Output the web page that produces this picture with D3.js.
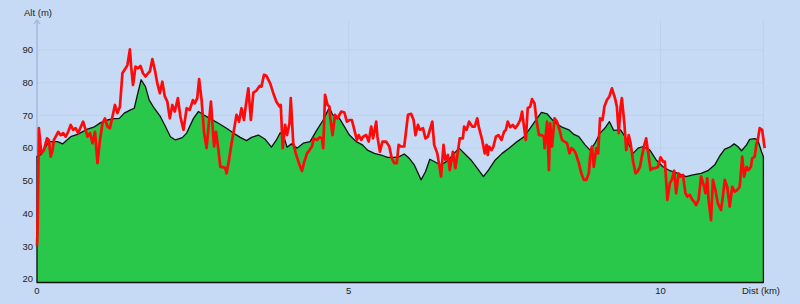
<!DOCTYPE html>
<html>
<head>
<meta charset="utf-8">
<script src="https://cdn.jsdelivr.net/npm/d3@7"></script>
<style>
  html, body { margin: 0; padding: 0; background: #c6daf5; }
  svg { display: block; }
  text { font-family: "Liberation Sans", Arial, sans-serif; font-size: 9.5px; fill: #222; }
</style>
</head>
<body>
<div id="profile"></div>
<script>
// terrain profile (km, m)
var terrainDist = [0.00,0.06,0.19,0.33,0.41,0.54,0.65,0.81,0.91,1.02,1.13,1.23,1.32,1.40,1.50,1.56,1.61,1.67,1.74,1.80,1.88,1.98,2.06,2.14,2.22,2.33,2.40,2.51,2.59,2.67,2.77,2.91,3.04,3.15,3.26,3.36,3.44,3.55,3.66,3.76,3.84,3.90,3.96,4.01,4.08,4.17,4.27,4.38,4.49,4.59,4.67,4.69,4.74,4.85,4.93,5.01,5.12,5.22,5.30,5.41,5.52,5.62,5.73,5.81,5.89,5.97,6.05,6.16,6.23,6.30,6.40,6.48,6.59,6.69,6.77,6.88,6.96,7.06,7.16,7.24,7.35,7.46,7.57,7.70,7.81,7.91,8.02,8.09,8.18,8.29,8.42,8.53,8.61,8.69,8.79,8.87,8.95,9.03,9.12,9.18,9.25,9.36,9.43,9.51,9.56,9.64,9.72,9.83,9.93,10.04,10.15,10.28,10.41,10.52,10.65,10.76,10.87,10.95,11.03,11.11,11.18,11.24,11.30,11.38,11.43,11.51,11.56,11.62,11.65]
var terrainAlt = [57.5,58,62,62,61.3,63.5,64.2,65.8,66.4,67.8,68.6,69,69.1,70.7,71.7,72.2,76.3,80.9,78.8,74.7,72.2,69.6,66.6,63.5,62.5,63.2,64.6,69.1,71.2,70.2,69.1,67.6,66.1,64.6,63.3,62.3,63.3,64,62.7,60.3,62.5,64.7,63.5,60.3,61.3,60,61.5,62,65.6,68.6,71.7,72.5,70.2,69.1,66.6,64,62,61,59.4,58.4,57.9,57.2,57.2,57.4,58.2,56.9,54.9,50.3,52.8,56.6,55.6,54.9,56.2,58.4,60,57.9,56.4,53.9,51.3,53.3,56.4,58.4,60,62,63.5,66.1,69.1,70.9,70.5,68.1,66.4,65.6,64.2,63.5,61,59.4,61.5,64.6,66.4,68.1,65.4,65.6,63.5,60.5,58.4,60,60.5,59.4,56.4,54.3,53.1,52.3,51.3,51.8,52.3,53.1,54.9,57.6,59.7,60.3,61.3,60.5,59.2,61,62.7,62.9,62.5,58.9,57.4]

// recorded track (km, m)
var trackDist = [0.00,0.01,0.03,0.07,0.11,0.16,0.19,0.22,0.25,0.27,0.30,0.34,0.38,0.42,0.46,0.50,0.54,0.58,0.62,0.66,0.70,0.74,0.78,0.81,0.85,0.89,0.93,0.97,1.01,1.05,1.09,1.13,1.17,1.21,1.25,1.29,1.33,1.37,1.42,1.45,1.49,1.51,1.54,1.58,1.62,1.66,1.70,1.74,1.78,1.81,1.85,1.89,1.93,1.97,2.01,2.05,2.09,2.13,2.17,2.21,2.26,2.30,2.35,2.40,2.45,2.50,2.53,2.57,2.60,2.64,2.68,2.72,2.76,2.79,2.82,2.84,2.87,2.91,2.94,2.98,3.02,3.04,3.08,3.12,3.16,3.20,3.24,3.28,3.32,3.35,3.39,3.43,3.47,3.52,3.57,3.60,3.64,3.68,3.74,3.79,3.84,3.89,3.91,3.94,3.98,4.01,4.05,4.07,4.11,4.15,4.21,4.25,4.28,4.33,4.37,4.41,4.44,4.49,4.53,4.57,4.59,4.62,4.66,4.69,4.70,4.74,4.78,4.82,4.88,4.93,4.97,5.01,5.05,5.09,5.13,5.16,5.20,5.23,5.28,5.32,5.36,5.39,5.44,5.46,5.50,5.54,5.60,5.65,5.69,5.73,5.77,5.80,5.84,5.89,5.95,6.00,6.04,6.07,6.11,6.14,6.19,6.23,6.27,6.30,6.34,6.37,6.42,6.45,6.48,6.52,6.55,6.59,6.62,6.67,6.71,6.75,6.78,6.83,6.85,6.89,6.93,6.98,7.02,7.06,7.09,7.14,7.18,7.21,7.23,7.25,7.29,7.32,7.36,7.40,7.45,7.49,7.52,7.55,7.59,7.63,7.67,7.71,7.75,7.78,7.81,7.84,7.87,7.91,7.94,7.98,8.01,8.05,8.09,8.13,8.14,8.18,8.21,8.23,8.26,8.30,8.34,8.38,8.42,8.46,8.50,8.54,8.57,8.61,8.64,8.69,8.73,8.77,8.81,8.85,8.87,8.90,8.93,8.97,9.00,9.03,9.07,9.10,9.14,9.18,9.22,9.27,9.30,9.33,9.36,9.38,9.42,9.45,9.49,9.52,9.56,9.60,9.63,9.67,9.70,9.74,9.77,9.80,9.84,9.88,9.92,9.96,10.00,10.04,10.07,10.11,10.15,10.18,10.22,10.25,10.29,10.32,10.36,10.40,10.43,10.47,10.51,10.54,10.57,10.61,10.65,10.70,10.72,10.75,10.77,10.81,10.84,10.88,10.92,10.97,11.00,11.03,11.07,11.11,11.15,11.19,11.23,11.27,11.31,11.34,11.38,11.41,11.45,11.47,11.51,11.54,11.56,11.59,11.63,11.67]
var trackAlt = [30,36,66.1,58.4,59.4,63,62.5,57.4,59.4,62.5,63.5,65,64,64.6,63.5,65,67.1,65.6,66.1,64.6,66.4,68.1,65.6,63.5,64.6,61.5,65,55.4,62.5,67.6,69.1,66.6,66.1,69.6,73.2,70.7,72.7,82.9,84.4,85.4,90.2,84.9,79.3,84.9,84.4,85.1,82.9,81.9,82.9,83.4,87.2,83.9,79.8,76.8,80.3,75.8,74.2,69.1,73.2,71.2,75.3,69.6,65.6,72.2,71.7,74.7,73.7,75.3,81.1,74.7,64.6,60,68.6,74.2,65.6,60.5,65,59.4,54.3,54.2,53.9,52.3,56.4,61.5,65.6,70.2,68.1,72.2,68.6,73.2,78.3,68.6,77,77.6,79,78.8,82.4,82.1,79.8,76.8,74.2,72.7,73.2,60,67.1,64,67.6,75.3,61.5,58.4,54.9,53,55.4,58.4,59.4,60.5,63,62.5,63.3,63,60,76.3,73.2,72.7,69.6,64,70.2,69.1,71.2,70.9,68.1,68.6,68.6,65.6,62.5,64,62.5,63.5,64,62,66.6,63,68.1,63.5,58.9,62,62,60.5,56.9,55.4,55.4,61,60.5,60.5,70.2,70.5,68.6,64,67.1,65.6,66.1,63,63.5,65.6,68.1,61,58.4,54.9,51.3,61,56.4,57.9,53.3,58.9,53.9,58.9,63,63,66.6,65.6,68.1,66.6,66.6,69.1,66.1,62.5,58.4,61,57.9,60.5,59.4,60.5,63.5,64,62.5,65,65.6,68.1,66.4,67.1,66.1,67.1,68.6,71.2,66.6,62.5,72.2,72.7,75,73.7,68.6,64,64,63.5,60,68.1,53.3,67.6,60.5,69.1,68.1,65.6,62.5,62,61.5,58.4,60,59.4,58.4,55.4,52.3,50.3,50.3,52.3,57.4,60.5,54.3,60,58.4,69.1,68.6,72.7,74.7,75.8,78.3,75.3,72.7,64.6,72.7,75.3,67.6,59.4,64,61.5,55.9,52.3,52.8,54.3,57.4,61,63,58.9,53.3,53.9,53.9,54.3,57.2,55.9,55.9,44.2,49.3,50.3,53.1,46.2,52.3,51.3,51.8,46.2,45.2,45.7,44.2,43.6,42.6,44.2,51.3,48.2,46.2,50.8,44.2,38,50.3,47.2,43.1,41.1,45.2,50.3,48.2,42.1,48.2,46.7,47.2,48.2,57.4,51.3,54.3,53.3,54.3,56.9,57.4,61.5,62.5,66.1,65.6,60]

var xTicks = [0, 5, 10]
var yTicks = [20, 30, 40, 50, 60, 70, 80, 90]

var WIDTH = 800, HEIGHT = 304
var LEFT = 37, RIGHT = 763.4, TOP = 20, BOTTOM = 282.5

const svg = d3.select('#profile').append("svg").attr("width", WIDTH).attr("height", HEIGHT)
svg.append("rect").attr("width", WIDTH).attr("height", HEIGHT).attr("fill", "#c6daf5")

const x = d3.scaleLinear().domain([0, 11.65]).range([LEFT, RIGHT])
const y = d3.scaleLinear().domain([20, 90]).range([279, 50])

// grid
svg.append("g").selectAll("line").data(yTicks.slice(1)).enter().append("line")
    .attr("x1", LEFT).attr("x2", RIGHT).attr("y1", d => y(d)).attr("y2", d => y(d))
    .attr("stroke", "#bcd1ed").attr("stroke-width", 1)
svg.append("g").selectAll("line").data(xTicks.slice(1).concat([11.65])).enter().append("line")
    .attr("x1", d => x(d)).attr("x2", d => x(d)).attr("y1", TOP).attr("y2", BOTTOM)
    .attr("stroke", "#bcd1ed").attr("stroke-width", 1)

// y axis line with arrow
svg.append("line").attr("x1", LEFT).attr("x2", LEFT).attr("y1", TOP).attr("y2", BOTTOM)
    .attr("stroke", "#9db3d2").attr("stroke-width", 1.2)
svg.append("path").attr("d", "M" + (LEFT - 3) + "," + (TOP + 4) + "L" + LEFT + "," + TOP + "L" + (LEFT + 3) + "," + (TOP + 4))
    .attr("fill", "none").attr("stroke", "#9db3d2").attr("stroke-width", 1.2)

const terrain = terrainDist.map((d, i) => [d, terrainAlt[i]])
const track = trackDist.map((d, i) => [d, trackAlt[i]])

const area = d3.area().x(d => x(d[0])).y0(BOTTOM).y1(d => y(d[1]))
svg.append("path").datum(terrain).attr("d", area)
    .attr("fill", "#29c84a").attr("stroke", "#111").attr("stroke-width", 1.3).attr("stroke-linejoin", "round")

const line = d3.line().x(d => x(d[0])).y(d => y(d[1]))
svg.append("path").datum(track).attr("d", line)
    .attr("fill", "none").attr("stroke", "#ff0a0a").attr("stroke-width", 2.7).attr("stroke-linejoin", "round")

// labels
svg.append("g").selectAll("text").data(yTicks).enter().append("text")
    .attr("x", 33).attr("y", d => y(d) + 3.3).attr("text-anchor", "end").text(d => d)
svg.append("g").selectAll("text").data(xTicks).enter().append("text")
    .attr("x", d => x(d)).attr("y", 294).attr("text-anchor", "middle").text(d => d)
svg.append("text").attr("x", 24).attr("y", 15.5).text("Alt (m)")
svg.append("text").attr("x", 780).attr("y", 294).attr("text-anchor", "end").text("Dist (km)")
</script>
</body>
</html>
